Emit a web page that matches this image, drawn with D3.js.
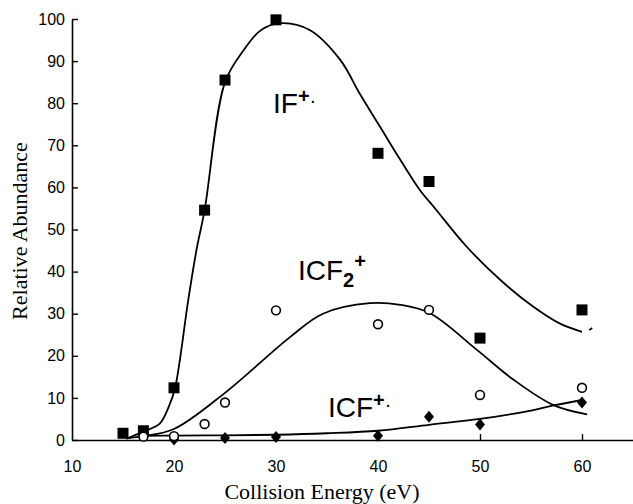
<!DOCTYPE html>
<html>
<head>
<meta charset="utf-8">
<script src="https://cdn.jsdelivr.net/npm/d3@7"></script>
<style>
  body { margin: 0; background: #fff; }
  svg { display: block; }
  .tick text { font-family: "Liberation Sans", Arial, sans-serif; font-size: 16px; fill: #000; }
  .title { font-family: "Liberation Serif", "Times New Roman", serif; font-size: 22px; fill: #000; }
  .series { font-family: "Liberation Sans", Arial, sans-serif; font-size: 28px; fill: #000; }
</style>
</head>
<body>
<svg id="chart" width="633" height="504"></svg>
<script>
// measured points (collision energy in eV, relative abundance)
var ifEnergy   = [15, 17, 20, 23, 25, 30, 40, 45, 50, 60];
var ifAbund    = [1.6, 2.2, 12.4, 54.6, 85.5, 99.8, 68.1, 61.4, 24.2, 30.9];
var icf2Energy = [17, 20, 23, 25, 30, 40, 45, 50, 60];
var icf2Abund  = [0.8, 0.9, 3.8, 8.9, 30.8, 27.5, 30.9, 10.7, 12.4];
var icfEnergy  = [20, 25, 30, 40, 45, 50, 60];
var icfAbund   = [0.1, 0.5, 0.7, 1.0, 5.5, 3.7, 8.9];

// hand drawn trend curves
var ifCurveE   = [15.3, 17, 18.6, 19.5, 20.1, 21.4, 22.2, 23, 25, 26.8, 28.5, 30.4, 33.3, 36.3, 38.2, 40.2, 42.2, 44.1, 45.6, 48.7, 52, 55.2, 57.8, 60];
var ifCurveA   = [0.3, 2.0, 3.9, 8, 12.3, 33.3, 45.1, 54.6, 85, 92.5, 97.3, 99, 97.4, 90.3, 82.3, 74.4, 66.5, 59.4, 55, 45.9, 38, 31.7, 27.7, 25.7];
var ifTailE    = [60.7, 61.0];
var ifTailA    = [26.1, 26.6];
var icf2CurveE = [15.4, 17, 20, 25, 31.4, 34.6, 39.2, 42.2, 45.1, 49.7, 53.3, 57.2, 60.5];
var icf2CurveA = [0.4, 0.9, 2.6, 11.2, 24.5, 30, 32.5, 32.1, 30.1, 21.4, 14.3, 8.3, 6.1];
var icfCurveE  = [17, 20, 25, 30, 35, 40, 45, 50, 55, 57.2, 60];
var icfCurveA  = [1.0, 1.05, 1.1, 1.25, 1.6, 2.2, 3.6, 5.0, 7.0, 8.2, 9.5];

var xTicks = [10, 20, 30, 40, 50, 60];
var yTicks = [0, 10, 20, 30, 40, 50, 60, 70, 80, 90, 100];

var svg = d3.select("#chart");

var x = d3.scaleLinear().domain([10, 65]).range([72, 633]);
var y = d3.scaleLinear().domain([0, 100]).range([440, 19]);

function pairs(xs, ys) { return xs.map(function(v, i){ return [v, ys[i]]; }); }

// axes
var xAxis = d3.axisBottom(x).tickValues(xTicks).tickSizeInner(-6).tickSizeOuter(0).tickPadding(21);
var yAxis = d3.axisLeft(y).tickValues(yTicks).tickSizeInner(-6).tickSizeOuter(0).tickPadding(7);

var gx = svg.append("g").attr("transform", "translate(0,440)").call(xAxis);
var gy = svg.append("g").attr("transform", "translate(72,0)").call(yAxis);
[gx, gy].forEach(function(g){
  g.select(".domain").attr("stroke", "#000").attr("stroke-width", 1.6);
  g.selectAll(".tick line").attr("stroke", "#000").attr("stroke-width", 1.4);
});
gx.selectAll(".tick").filter(function(d){ return d === 10; }).select("line").remove();

svg.append("text").attr("class", "title")
   .attr("x", 322).attr("y", 499).attr("text-anchor", "middle")
   .text("Collision Energy (eV)");
svg.append("text").attr("class", "title")
   .attr("transform", "translate(27,231) rotate(-90)").attr("text-anchor", "middle")
   .text("Relative Abundance");

// curves
var line = d3.line()
    .x(function(d){ return x(d[0]); })
    .y(function(d){ return y(d[1]); })
    .curve(d3.curveCatmullRom.alpha(0.5));

[pairs(ifCurveE, ifCurveA), pairs(ifTailE, ifTailA), pairs(icf2CurveE, icf2CurveA), pairs(icfCurveE, icfCurveA)]
  .forEach(function(pts){
    svg.append("path").datum(pts)
       .attr("d", line)
       .attr("fill", "none")
       .attr("stroke", "#000")
       .attr("stroke-width", 1.8);
  });

// markers
var diamond = {
  draw: function(ctx, size) {
    var w = Math.sqrt(size) / 2, h = w * 1.2;
    ctx.moveTo(0, -h); ctx.lineTo(w, 0); ctx.lineTo(0, h); ctx.lineTo(-w, 0); ctx.closePath();
  }
};

svg.append("g").selectAll("path")
   .data(pairs(ifEnergy, ifAbund))
   .enter().append("path")
   .attr("transform", function(d){ return "translate(" + x(d[0]) + "," + y(d[1]) + ")"; })
   .attr("d", d3.symbol().type(d3.symbolSquare).size(121))
   .attr("fill", "#000");

svg.append("g").selectAll("path")
   .data(pairs(icfEnergy, icfAbund))
   .enter().append("path")
   .attr("transform", function(d){ return "translate(" + x(d[0]) + "," + y(d[1]) + ")"; })
   .attr("d", d3.symbol().type(diamond).size(100))
   .attr("fill", "#000");

svg.append("g").selectAll("circle")
   .data(pairs(icf2Energy, icf2Abund))
   .enter().append("circle")
   .attr("cx", function(d){ return x(d[0]); })
   .attr("cy", function(d){ return y(d[1]); })
   .attr("r", 4.4)
   .attr("fill", "#fff")
   .attr("stroke", "#000")
   .attr("stroke-width", 1.6);

// series labels
var t1 = svg.append("text").attr("class", "series").attr("x", 273).attr("y", 113);
t1.append("tspan").text("IF");
t1.append("tspan").attr("font-size", "20px").attr("font-weight", "bold").attr("dy", -10).text("+");
t1.append("tspan").attr("font-size", "20px").attr("dy", 4).text("·");

var t2 = svg.append("text").attr("class", "series").attr("x", 298).attr("y", 280);
t2.append("tspan").text("ICF");
t2.append("tspan").attr("font-size", "20px").attr("font-weight", "bold").attr("dy", 7).text("2");
t2.append("tspan").attr("font-size", "20px").attr("font-weight", "bold").attr("dy", -19).text("+");

var t3 = svg.append("text").attr("class", "series").attr("x", 328).attr("y", 417);
t3.append("tspan").text("ICF");
t3.append("tspan").attr("font-size", "20px").attr("font-weight", "bold").attr("dy", -10).text("+");
t3.append("tspan").attr("font-size", "20px").attr("dy", 4).text("·");
</script>
</body>
</html>
